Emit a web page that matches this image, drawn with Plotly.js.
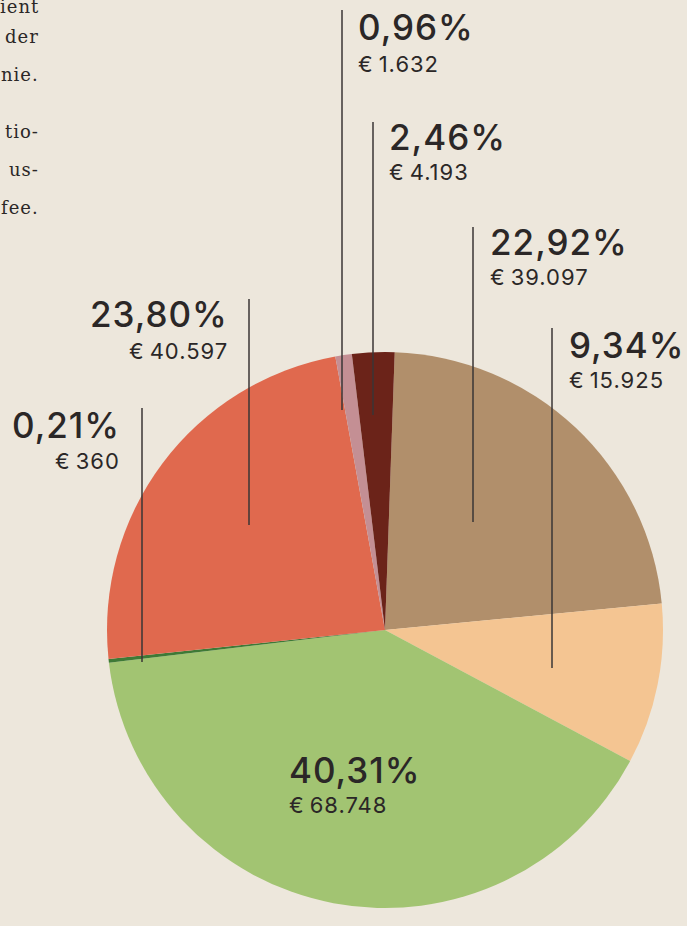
<!DOCTYPE html>
<html>
<head>
<meta charset="utf-8">
<script src="https://cdn.plot.ly/plotly-3.0.1.min.js"></script>
<style>
html,body{margin:0;padding:0;background:#ede7dc;}
#chart{width:687px;height:926px;}
svg text.annotation-text{letter-spacing:1px;}
</style>
</head>
<body>
<div id="chart"></div>
<script>
// ---- data ----
const categories = ["Braun", "Pfirsich", "Grün", "Dunkelgrün", "Rot", "Rosa", "Dunkelbraun"];
const values = [39097, 15925, 68748, 360, 40597, 1632, 4193];
const pctLabels = ["22,92%", "9,34%", "40,31%", "0,21%", "23,80%", "0,96%", "2,46%"];
const euroLabels = ["€\u200939.097", "€\u200915.925", "€\u200968.748", "€\u2009360", "€\u200940.597", "€\u20091.632", "€\u20094.193"];
const colors = ["#b18f6b", "#f4c592", "#a2c472", "#3e7a36", "#e0694e", "#c48f94", "#6b2319"];
const sideText = ["ient", "der", "nie.", "tio-", "us-", "fee."];

// ---- layout (pixel positions) ----
const W = 687, H = 926;
const px = x => x / W, py = y => 1 - y / H;
// [x, yPct(center), yEuro(center), align, lineX, lineTop, lineBottom]
const labelPos = [
  [488, 242, 277, "left", 473, 227, 522],
  [567, 345, 380, "left", 552, 328, 668],
  [287, 770, 805, "left", null],
  [122, 425, 461, "right", 142, 408, 662],
  [230, 314, 351, "right", 249, 299, 525],
  [356, 27, 64, "left", 342, 10, 410],
  [387, 137, 172, "left", 373, 122, 415]
];
const sideY = [6, 37, 74, 132, 170, 207];

const annotations = [];
const shapes = [];
const txtColor = "#2b2727";
labelPos.forEach((p, i) => {
  annotations.push({
    xref: "paper", yref: "paper", x: px(p[0]), y: py(p[1]),
    xanchor: p[3], yanchor: "middle", showarrow: false,
    text: pctLabels[i],
    font: {family: "Inter, Lato, sans-serif", size: 35, color: txtColor, weight: 500}
  });
  annotations.push({
    xref: "paper", yref: "paper", x: px(p[0]), y: py(p[2]),
    xanchor: p[3], yanchor: "middle", showarrow: false,
    text: euroLabels[i],
    font: {family: "Inter, Lato, sans-serif", size: 22, color: txtColor, weight: 400}
  });
  if (p[4] !== null && p[4] !== undefined) {
    shapes.push({
      type: "line", xref: "paper", yref: "paper",
      x0: px(p[4]), x1: px(p[4]), y0: py(p[5]), y1: py(p[6]),
      line: {color: "#3a3636", width: 1.5}
    });
  }
});
sideText.forEach((t, i) => {
  annotations.push({
    xref: "paper", yref: "paper", x: px(41), y: py(sideY[i]),
    xanchor: "right", yanchor: "middle", showarrow: false,
    text: t,
    font: {family: "DejaVu Serif, serif", size: 18, color: "#2b2727"}
  });
});

const trace = {
  type: "pie",
  labels: categories,
  values: values,
  sort: false,
  direction: "clockwise",
  rotation: 2,
  textinfo: "none",
  hoverinfo: "none",
  marker: {colors: colors, line: {width: 0}},
  domain: {x: [px(107), px(663)], y: [py(908), py(352)]},
  showlegend: false
};

const layout = {
  width: W, height: H,
  margin: {l: 0, r: 0, t: 0, b: 0},
  paper_bgcolor: "#ede7dc",
  plot_bgcolor: "#ede7dc",
  showlegend: false,
  annotations: annotations,
  shapes: shapes
};

Plotly.newPlot("chart", [trace], layout, {displayModeBar: false, staticPlot: true});
</script>
</body>
</html>
